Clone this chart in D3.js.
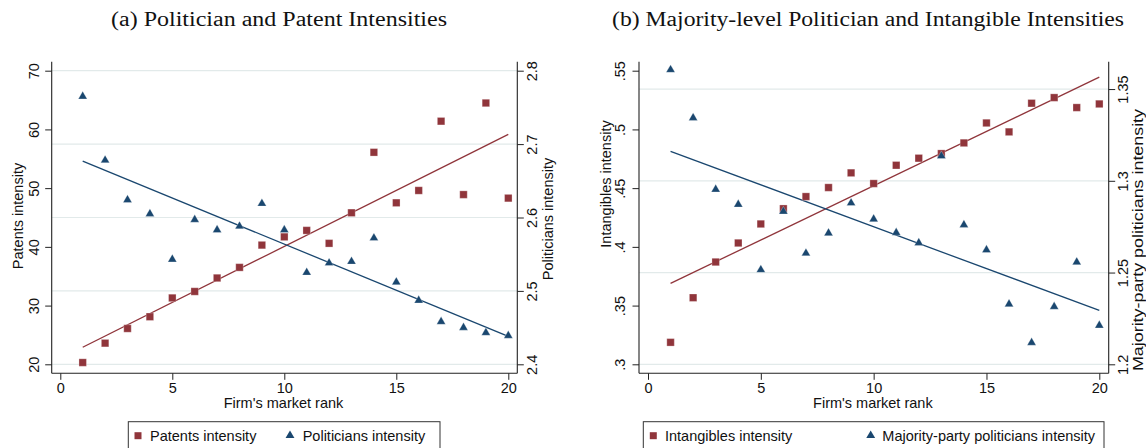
<!DOCTYPE html>
<html>
<head>
<meta charset="utf-8">
<script src="https://cdn.jsdelivr.net/npm/d3@7"></script>
<style>
  body { margin: 0; background: #fff; }
  svg { display: block; }
  text { font-family: "Liberation Sans", Arial, sans-serif; fill: #111; }
</style>
</head>
<body>
<svg id="chart" width="1146" height="448"></svg>
<script>
// Firm market rank (1 = smallest rank bin shown on the x axis)
const ranks = [1, 2, 3, 4, 5, 6, 7, 8, 9, 10, 11, 12, 13, 14, 15, 16, 17, 18, 19, 20];

// Panel (a)
const patents = [20.3, 23.6, 26.1, 28.1, 31.3, 32.4, 34.7, 36.5, 40.3, 41.7,
                 42.8, 40.6, 45.8, 56.1, 47.5, 49.6, 61.4, 48.9, 64.5, 48.3];
const politicians = [2.765, 2.678, 2.624, 2.605, 2.543, 2.597, 2.583, 2.588, 2.619, 2.583,
                     2.525, 2.538, 2.540, 2.572, 2.512, 2.487, 2.458, 2.450, 2.443, 2.439];

// Panel (b)
const intangibles = [0.3187, 0.3567, 0.3871, 0.4033, 0.4195, 0.4325, 0.4428, 0.4505, 0.4630, 0.4539,
                     0.4695, 0.4755, 0.4794, 0.4885, 0.5055, 0.4979, 0.5223, 0.5271, 0.5186, 0.5217];
const majorityPoliticians = [1.3605, 1.3343, 1.2953, 1.2871, 1.2515, 1.2833, 1.2605, 1.2715, 1.2879, 1.2791,
                             1.2717, 1.2662, 1.3135, 1.2760, 1.2623, 1.2328, 1.2118, 1.2314, 1.2557, 1.2212];

// Tick labels
const rankTicks = [0, 5, 10, 15, 20];
const patentTicks = [20, 30, 40, 50, 60, 70];
const politicianTicks = [2.4, 2.5, 2.6, 2.7, 2.8];
const intangibleTicks = [0.3, 0.35, 0.4, 0.45, 0.5, 0.55];
const majorityTicks = [1.2, 1.25, 1.3, 1.35];

const RED = "#90353b";
const BLUE = "#1a476f";
const GRID = "#e2eaea";
const AXIS = "#222";

const svg = d3.select("#chart");

const dropLeadingZero = d => String(+d.toFixed(2)).replace(/^0\./, ".");

const panels = [
  {
    title: "(a) Politician and Patent Intensities", titleX: 279, titleLen: 336,
    left: 51.7, right: 517.3, x0: 60.3, x20: 508.3,
    leftDomain: [20, 70], rightDomain: [2.4, 2.8],
    leftTicks: patentTicks, rightTicks: politicianTicks,
    leftFmt: d => String(d), rightFmt: d => d.toFixed(1),
    leftVals: patents, rightVals: politicians,
    leftTitle: "Patents intensity", leftTitleX: 22.7, leftTitleY: 216, leftLabelOff: -12.4,
    rightTitle: "Politicians intensity", rightTitleX: 553.3, rightTitleY: 219, rightLabelOff: 19.7,
    rightTitleLen: null,
    legend: { x: 128.3, w: 311.7, sq: 138, sqText: 150, tri: 290, triText: 302.7,
              a: "Patents intensity", b: "Politicians intensity" }
  },
  {
    title: "(b) Majority-level Politician and Intangible Intensities", titleX: 868, titleLen: 512,
    left: 639, right: 1108.7, x0: 648, x20: 1099.3,
    leftDomain: [0.3, 0.55], rightDomain: [1.2, 1.36],
    leftTicks: intangibleTicks, rightTicks: majorityTicks,
    leftFmt: dropLeadingZero, rightFmt: d => String(+d.toFixed(2)),
    leftVals: intangibles, rightVals: majorityPoliticians,
    leftTitle: "Intangibles intensity", leftTitleX: 611, leftTitleY: 184, leftLabelOff: -13.6,
    rightTitle: "Majority-party politicians intensity", rightTitleX: 1143.2, rightTitleY: 240, rightLabelOff: 19.7,
    rightTitleLen: 262,
    legend: { x: 643.3, w: 460.7, sq: 653.3, sqText: 665, tri: 870.7, triText: 882.3,
              a: "Intangibles intensity", b: "Majority-party politicians intensity" }
  }
];

const TOP = 61.7, BOTTOM = 373.3;
const Y_HI = 70.7, Y_LO = 364.3;

// Ordinary least squares fit, evaluated over the observed x range
function linearFit(xs, ys) {
  const mx = d3.mean(xs), my = d3.mean(ys);
  const sxy = d3.sum(xs, (x, i) => (x - mx) * (ys[i] - my));
  const sxx = d3.sum(xs, x => (x - mx) * (x - mx));
  const b = sxy / sxx, a = my - b * mx;
  const xMin = d3.min(xs), xMax = d3.max(xs);
  return [[xMin, a + b * xMin], [xMax, a + b * xMax]];
}

const squareSym = d3.symbol().type(d3.symbolSquare).size(56);
const triangleSym = d3.symbol().type(d3.symbolTriangle).size(34);

panels.forEach(p => {
  const g = svg.append("g");
  const x = d3.scaleLinear().domain([0, 20]).range([p.x0, p.x20]);
  const yL = d3.scaleLinear().domain(p.leftDomain).range([Y_LO, Y_HI]);
  const yR = d3.scaleLinear().domain(p.rightDomain).range([Y_LO, Y_HI]);

  // Title
  g.append("text")
    .attr("x", p.titleX).attr("y", 26)
    .attr("text-anchor", "middle")
    .attr("textLength", p.titleLen)
    .attr("lengthAdjust", "spacingAndGlyphs")
    .style("font-family", '"Liberation Serif", "DejaVu Serif", serif')
    .style("font-size", "20px")
    .text(p.title);

  // Horizontal grid at the right-axis ticks
  g.append("g").selectAll("line").data(p.rightTicks).join("line")
    .attr("x1", p.left).attr("x2", p.right)
    .attr("y1", d => yR(d)).attr("y2", d => yR(d))
    .attr("stroke", GRID).attr("stroke-width", 1.2);

  // Axis frame lines
  g.append("line").attr("x1", p.left).attr("x2", p.left).attr("y1", TOP).attr("y2", BOTTOM)
    .attr("stroke", AXIS).attr("stroke-width", 1.1);
  g.append("line").attr("x1", p.right).attr("x2", p.right).attr("y1", TOP).attr("y2", BOTTOM)
    .attr("stroke", AXIS).attr("stroke-width", 1.1);
  g.append("line").attr("x1", p.left).attr("x2", p.right).attr("y1", BOTTOM).attr("y2", BOTTOM)
    .attr("stroke", AXIS).attr("stroke-width", 1.1);

  // Bottom axis
  const xa = g.append("g").attr("transform", `translate(0,${BOTTOM})`)
    .call(d3.axisBottom(x).tickValues(rankTicks).tickSize(6.5).tickFormat(d => String(d)));
  xa.select(".domain").remove();
  xa.selectAll(".tick line").attr("stroke", AXIS);
  xa.selectAll(".tick text").attr("y", 19.7).attr("dy", 0)
    .style("font-size", "14.5px").style("font-family", '"Liberation Sans", Arial, sans-serif').attr("fill", "#111");

  // Left axis
  const la = g.append("g").attr("transform", `translate(${p.left},0)`)
    .call(d3.axisLeft(yL).tickValues(p.leftTicks).tickSize(6.5).tickFormat(p.leftFmt));
  la.select(".domain").remove();
  la.selectAll(".tick line").attr("stroke", AXIS);
  la.selectAll(".tick text")
    .attr("transform", "rotate(-90)")
    .attr("x", 0).attr("y", p.leftLabelOff).attr("dy", 0)
    .attr("text-anchor", "middle")
    .style("font-size", "14.5px").style("font-family", '"Liberation Sans", Arial, sans-serif').attr("fill", "#111");

  // Right axis
  const ra = g.append("g").attr("transform", `translate(${p.right},0)`)
    .call(d3.axisRight(yR).tickValues(p.rightTicks).tickSize(6.5).tickFormat(p.rightFmt));
  ra.select(".domain").remove();
  ra.selectAll(".tick line").attr("stroke", AXIS);
  ra.selectAll(".tick text")
    .attr("transform", "rotate(-90)")
    .attr("x", 0).attr("y", p.rightLabelOff).attr("dy", 0)
    .attr("text-anchor", "middle")
    .style("font-size", "14.5px").style("font-family", '"Liberation Sans", Arial, sans-serif').attr("fill", "#111");

  // Axis titles
  const axisTitle = (tx, ty, s, len) => {
    const t = g.append("text")
      .attr("transform", `translate(${tx},${ty}) rotate(-90)`)
      .attr("text-anchor", "middle").style("font-size", "14.5px").text(s);
    if (len) t.attr("textLength", len).attr("lengthAdjust", "spacingAndGlyphs");
    return t;
  };
  axisTitle(p.leftTitleX, p.leftTitleY, p.leftTitle);
  axisTitle(p.rightTitleX, p.rightTitleY, p.rightTitle, p.rightTitleLen);
  g.append("text")
    .attr("x", (p.left + p.right) / 2 - 1).attr("y", 408)
    .attr("text-anchor", "middle").style("font-size", "14.5px")
    .text("Firm's market rank");

  // Fitted lines
  const line = d3.line().x(d => x(d[0]));
  g.append("path")
    .attr("d", line.y(d => yL(d[1]))(linearFit(ranks, p.leftVals)))
    .attr("stroke", RED).attr("stroke-width", 1.3).attr("fill", "none");
  g.append("path")
    .attr("d", line.y(d => yR(d[1]))(linearFit(ranks, p.rightVals)))
    .attr("stroke", BLUE).attr("stroke-width", 1.3).attr("fill", "none");

  // Scatter markers
  g.append("g").selectAll("path").data(ranks).join("path")
    .attr("transform", (r, i) => `translate(${x(r)},${yL(p.leftVals[i])})`)
    .attr("d", squareSym)
    .attr("fill", RED).attr("stroke", "#fff").attr("stroke-opacity", 0.35).attr("stroke-width", 0.8);
  g.append("g").selectAll("path").data(ranks).join("path")
    .attr("transform", (r, i) => `translate(${x(r)},${yR(p.rightVals[i])})`)
    .attr("d", triangleSym)
    .attr("fill", BLUE).attr("stroke", "#fff").attr("stroke-opacity", 0.35).attr("stroke-width", 0.8);

  // Legend
  const L = p.legend;
  g.append("rect").attr("x", L.x).attr("y", 421.7).attr("width", L.w).attr("height", 60)
    .attr("fill", "#fff").attr("stroke", "#333").attr("stroke-width", 1);
  g.append("path").attr("transform", `translate(${L.sq},435.7)`).attr("d", d3.symbol().type(d3.symbolSquare).size(49)).attr("fill", RED);
  g.append("text").attr("x", L.sqText).attr("y", 440.5).style("font-size", "14.5px").text(L.a);
  g.append("path").attr("transform", `translate(${L.tri},435.5)`).attr("d", d3.symbol().type(d3.symbolTriangle).size(34)).attr("fill", BLUE);
  g.append("text").attr("x", L.triText).attr("y", 440.5).style("font-size", "14.5px").text(L.b);
});
</script>
</body>
</html>
